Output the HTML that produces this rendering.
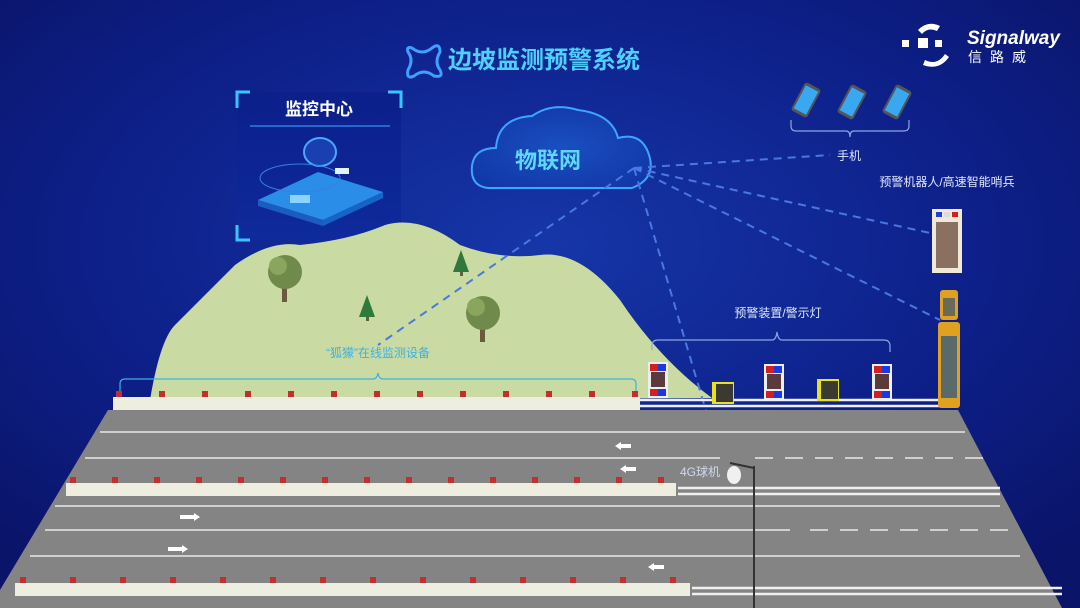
<!DOCTYPE html>
<html><head><meta charset="utf-8"><style>
html,body{margin:0;padding:0;width:1080px;height:608px;overflow:hidden;background:#0a1670}
svg{display:block}
text{font-family:"Liberation Sans","Noto Sans CJK SC",sans-serif}
</style></head><body>
<svg width="1080" height="608" viewBox="0 0 1080 608" xmlns="http://www.w3.org/2000/svg">
<defs>
<radialGradient id="bg" cx="0.5" cy="0.4" r="0.7">
<stop offset="0" stop-color="#1636a8"/><stop offset="0.6" stop-color="#0d1f88"/><stop offset="1" stop-color="#0a1468"/>
</radialGradient>
<radialGradient id="cl" cx="0.5" cy="0.5" r="0.6">
<stop offset="0" stop-color="#1a4fc0"/><stop offset="1" stop-color="#1138a8"/>
</radialGradient>
<linearGradient id="mc" x1="0" y1="0" x2="0" y2="1">
<stop offset="0" stop-color="#0c1f8a"/><stop offset="1" stop-color="#0e2a9c"/>
</linearGradient>
</defs>
<rect width="1080" height="608" fill="url(#bg)"/>

<!-- title -->
<path d="M412 48 q10 8 20 0 q8 -6 8 4 q-6 10 0 18 q4 8 -6 6 q-10 -8 -20 0 q-8 4 -6 -6 q6 -10 0 -18 q-2 -6 4 -4z" fill="none" stroke="#3fa0ff" stroke-width="3"/>
<text x="448" y="68" font-size="24" font-weight="bold" fill="#4fd0ff">边坡监测预警系统</text>

<!-- logo -->
<g fill="#fff">
<rect x="902" y="40" width="7" height="7"/><rect x="918" y="38" width="10" height="10"/><rect x="935" y="40" width="7" height="7"/>
<path d="M918 30 q10 -10 22 -4 l-3 5 q-9 -4 -15 3z"/>
<path d="M925 60 q12 6 20 -6 l4 3 q-10 14 -26 8z"/>
</g>
<text x="967" y="44" font-size="19" font-weight="bold" font-style="italic" fill="#fff">Signalway</text>
<text x="968" y="62" font-size="14" fill="#fff" letter-spacing="8">信路威</text>

<!-- monitoring center -->
<rect x="237" y="92" width="164" height="148" fill="url(#mc)"/>
<path d="M237 108 V92 H250 M388 92 H401 V108 M237 225 V240 H250 M388 240 H401 V225" fill="none" stroke="#3cc4ff" stroke-width="3"/>
<text x="319" y="115" font-size="17" font-weight="bold" fill="#fff" text-anchor="middle">监控中心</text>
<line x1="250" y1="126" x2="390" y2="126" stroke="#2f7fe0" stroke-width="1.5"/>
<path d="M258 200 l60 -28 l65 20 l-60 28z" fill="#2a8ee8"/>
<path d="M258 200 l65 20 l0 6 l-65 -20z" fill="#1a5cc0"/>
<path d="M323 220 l60 -28 l0 6 l-60 28z" fill="#1565c8"/>
<ellipse cx="320" cy="152" rx="16" ry="14" fill="#1a3fb0" stroke="#4aa8ff" stroke-width="2"/>
<ellipse cx="300" cy="178" rx="40" ry="14" fill="none" stroke="#3a7fe0" stroke-width="1"/>
<rect x="290" y="195" width="20" height="8" fill="#8ad4ff"/>
<rect x="335" y="168" width="14" height="6" fill="#e0f4ff"/>

<!-- cloud -->
<path d="M488 188 q-18 -2 -16 -22 q2 -18 24 -18 q2 -30 36 -32 q20 -14 46 -6 q34 4 40 28 q22 -6 30 14 q10 26 -16 36z" fill="url(#cl)" stroke="#3ca6ff" stroke-width="2"/>
<text x="548" y="168" font-size="22" font-weight="bold" fill="#5fd8ff" text-anchor="middle">物联网</text>

<!-- phones -->
<g transform="translate(806,100) rotate(28)"><rect x="-9" y="-16" width="18" height="32" rx="3" fill="#555"/><rect x="-7" y="-13" width="14" height="26" fill="#3aa8f0"/></g>
<g transform="translate(852,102) rotate(28)"><rect x="-9" y="-16" width="18" height="32" rx="3" fill="#555"/><rect x="-7" y="-13" width="14" height="26" fill="#3aa8f0"/></g>
<g transform="translate(897,102) rotate(28)"><rect x="-9" y="-16" width="18" height="32" rx="3" fill="#555"/><rect x="-7" y="-13" width="14" height="26" fill="#3aa8f0"/></g>
<path d="M791 120 v6 q0 5 5 5 h50 q4 0 4 6 q0 -6 4 -6 h50 q5 0 5 -5 v-6" fill="none" stroke="#8aa8e0" stroke-width="1.2"/>
<text x="849" y="160" font-size="12" fill="#e0e8ff" text-anchor="middle">手机</text>
<text x="947" y="186" font-size="12" fill="#e0e8ff" text-anchor="middle">预警机器人/高速智能哨兵</text>

<!-- hill -->
<path d="M150 400 Q160 340 175 325 Q200 300 235 265 Q270 240 300 245 Q350 240 385 225 Q420 215 460 245 Q500 260 540 255 Q580 250 620 300 Q660 360 712 398 Z" fill="#c9dba3"/>
<!-- trees -->
<g><rect x="282" y="282" width="5" height="20" fill="#6b5a40"/><circle cx="285" cy="272" r="17" fill="#6f8a4a"/><circle cx="278" cy="266" r="9" fill="#8aa65c"/></g>
<g><rect x="480" y="322" width="5" height="20" fill="#6b5a40"/><circle cx="483" cy="313" r="17" fill="#6f8a4a"/><circle cx="476" cy="307" r="9" fill="#8aa65c"/></g>
<path d="M461 250 l-8 22 h16z" fill="#2f7a3a"/><rect x="460" y="272" width="3" height="4" fill="#6b5a40"/>
<path d="M367 295 l-8 22 h16z" fill="#2f7a3a"/><rect x="366" y="317" width="3" height="4" fill="#6b5a40"/>

<!-- dashed lines -->
<g stroke="#4a78e0" stroke-width="2" stroke-dasharray="8,6" fill="none">
<line x1="634" y1="168" x2="830" y2="155"/>
<line x1="634" y1="168" x2="930" y2="233"/>
<line x1="634" y1="168" x2="940" y2="320"/>
<line x1="634" y1="168" x2="378" y2="345"/>
<line x1="634" y1="168" x2="722" y2="465"/>
</g>

<!-- bracket label left -->
<text x="378" y="357" font-size="12" fill="#3fb0e0" text-anchor="middle">“狐獴”在线监测设备</text>
<path d="M120 392 v-8 q0 -5 5 -5 h248 q4 0 5 -6 q1 6 5 6 h248 q5 0 5 5 v8" fill="none" stroke="#3fb0e0" stroke-width="1.2"/>
<text x="778" y="317" font-size="12" fill="#e0e8ff" text-anchor="middle">预警装置/警示灯</text>
<path d="M652 350 v-4 q0 -6 6 -6 h114 q4 0 5 -8 q1 8 5 8 h102 q6 0 6 6 v6" fill="none" stroke="#8aa8e0" stroke-width="1.2"/>

<!-- road -->
<path d="M108 410 L958 410 L1062 608 L0 608 L0 590 Z" fill="#848484"/>
<g stroke="#e8e8e8" stroke-width="1.5">
<line x1="100" y1="432" x2="965" y2="432"/>
<line x1="85" y1="458" x2="720" y2="458"/>
<line x1="755" y1="458" x2="985" y2="458" stroke-dasharray="18,12"/>
<line x1="55" y1="506" x2="1000" y2="506"/>
<line x1="45" y1="530" x2="790" y2="530"/>
<line x1="810" y1="530" x2="1010" y2="530" stroke-dasharray="18,12"/>
<line x1="30" y1="556" x2="1020" y2="556"/>
</g>
<!-- arrows -->
<g fill="#fff">
<path d="M615 446 l6 -4 v2 h10 v4 h-10 v2z"/>
<path d="M620 469 l6 -4 v2 h10 v4 h-10 v2z"/>
<path d="M200 517 l-6 -4 v2 h-14 v4 h14 v2z"/>
<path d="M188 549 l-6 -4 v2 h-14 v4 h14 v2z"/>
<path d="M648 567 l6 -4 v2 h10 v4 h-10 v2z"/>
</g>

<!-- barriers -->
<rect x="113" y="397" width="527" height="13" fill="#eeeee0"/>
<rect x="66" y="483" width="610" height="13" fill="#eeeee0"/>
<rect x="15" y="583" width="675" height="13" fill="#eeeee0"/>
<g fill="#c03030">
<rect x="159" y="391" width="6" height="6"/><rect x="202" y="391" width="6" height="6"/><rect x="245" y="391" width="6" height="6"/><rect x="288" y="391" width="6" height="6"/><rect x="331" y="391" width="6" height="6"/><rect x="374" y="391" width="6" height="6"/><rect x="417" y="391" width="6" height="6"/><rect x="460" y="391" width="6" height="6"/><rect x="503" y="391" width="6" height="6"/><rect x="546" y="391" width="6" height="6"/><rect x="589" y="391" width="6" height="6"/><rect x="632" y="391" width="6" height="6"/><rect x="116" y="391" width="6" height="6"/>
<rect x="70" y="477" width="6" height="6"/><rect x="112" y="477" width="6" height="6"/><rect x="154" y="477" width="6" height="6"/><rect x="196" y="477" width="6" height="6"/><rect x="238" y="477" width="6" height="6"/><rect x="280" y="477" width="6" height="6"/><rect x="322" y="477" width="6" height="6"/><rect x="364" y="477" width="6" height="6"/><rect x="406" y="477" width="6" height="6"/><rect x="448" y="477" width="6" height="6"/><rect x="490" y="477" width="6" height="6"/><rect x="532" y="477" width="6" height="6"/><rect x="574" y="477" width="6" height="6"/><rect x="616" y="477" width="6" height="6"/><rect x="658" y="477" width="6" height="6"/>
<rect x="20" y="577" width="6" height="6"/><rect x="70" y="577" width="6" height="6"/><rect x="120" y="577" width="6" height="6"/><rect x="170" y="577" width="6" height="6"/><rect x="220" y="577" width="6" height="6"/><rect x="270" y="577" width="6" height="6"/><rect x="320" y="577" width="6" height="6"/><rect x="370" y="577" width="6" height="6"/><rect x="420" y="577" width="6" height="6"/><rect x="470" y="577" width="6" height="6"/><rect x="520" y="577" width="6" height="6"/><rect x="570" y="577" width="6" height="6"/><rect x="620" y="577" width="6" height="6"/><rect x="670" y="577" width="6" height="6"/>
</g>
<!-- guardrails -->
<g stroke="#f0f0f0" stroke-width="2.5" fill="none">
<line x1="640" y1="400" x2="958" y2="400"/><line x1="640" y1="406" x2="958" y2="406"/>
<line x1="678" y1="488" x2="1000" y2="488"/><line x1="678" y1="494" x2="1000" y2="494"/>
<line x1="692" y1="588" x2="1062" y2="588"/><line x1="692" y1="594" x2="1062" y2="594"/>
</g>

<!-- warning devices -->
<g id="wd">
<rect x="648" y="362" width="20" height="36" fill="#eee"/><rect x="650" y="364" width="8" height="7" fill="#d02020"/><rect x="658" y="364" width="8" height="7" fill="#1a3ae0"/><rect x="651" y="372" width="14" height="15" fill="#5a3a3a"/><rect x="650" y="389" width="8" height="7" fill="#d02020"/><rect x="658" y="389" width="8" height="7" fill="#1a3ae0"/>
</g>
<use href="#wd" x="116" y="2"/>
<use href="#wd" x="224" y="2"/>
<rect x="712" y="382" width="22" height="22" fill="#e8e020"/><rect x="716" y="384" width="17" height="18" fill="#3a3a30"/>
<rect x="817" y="379" width="22" height="22" fill="#e8e020"/><rect x="821" y="381" width="17" height="18" fill="#3a3a30"/>

<!-- robot -->
<rect x="932" y="209" width="30" height="64" fill="#f0e8d8"/><rect x="936" y="212" width="6" height="5" fill="#2040d0"/><rect x="944" y="212" width="6" height="5" fill="#ddd"/><rect x="952" y="212" width="6" height="5" fill="#d02020"/><rect x="936" y="222" width="22" height="46" fill="#8a7060"/>
<!-- sentinel -->
<rect x="940" y="290" width="18" height="30" rx="3" fill="#e0a020"/><rect x="943" y="298" width="12" height="18" fill="#6a6a5a"/>
<rect x="938" y="322" width="22" height="86" rx="3" fill="#e0a020"/><rect x="941" y="336" width="16" height="62" fill="#5a6a6a"/>

<!-- 4G camera -->
<text x="680" y="476" font-size="12" fill="#d0d8f0">4G球机</text>
<line x1="754" y1="466" x2="754" y2="608" stroke="#333" stroke-width="2"/>
<line x1="730" y1="463" x2="754" y2="468" stroke="#333" stroke-width="2"/>
<ellipse cx="734" cy="475" rx="7" ry="9" fill="#f0f0f0"/>
</svg>
</body></html>
